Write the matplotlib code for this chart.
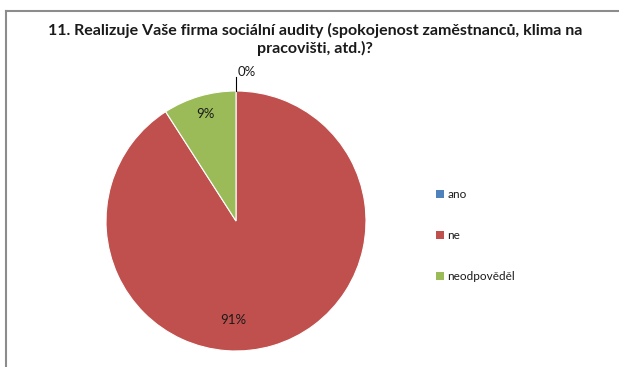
import matplotlib
matplotlib.use("Agg")
import matplotlib.pyplot as plt
import numpy as np
from matplotlib.lines import Line2D
from matplotlib.patches import Patch

title = "11. Realizuje Vaše firma sociální audity (spokojenost zaměstnanců, klima na\npracovišti, atd.)?"
categories = ["ano", "ne", "neodpověděl"]
values = [0.0, 90.9, 9.1]
labels = ["0%", "91%", "9%"]
colors = ["#4F81BD", "#C0504D", "#9BBB59"]

W, H = 619, 367
fig = plt.figure(figsize=(W / 100, H / 100), dpi=100)
plt.rcParams['font.family'] = ['Lato', 'DejaVu Sans']

# frame
fig.add_artist(Line2D([5.5 / W, 5.5 / W], [0, 1 - 10.5 / H], transform=fig.transFigure, color="#8c8c8c", lw=1.5))
fig.add_artist(Line2D([5.5 / W, 1], [1 - 10.5 / H, 1 - 10.5 / H], transform=fig.transFigure, color="#8c8c8c", lw=1.5))

fig.text(315 / W, 1 - 39.5 / H, title, ha="center", va="center", fontsize=11.5, fontweight="bold",
         linespacing=1.3, color="#1a1a1a")

# pie axes: center (236,221), radius 130 px
cx, cy, r = 236, 221, 130
ax = fig.add_axes([(cx - r) / W, (H - cy - r) / H, 2 * r / W, 2 * r / H])
wedges, _ = ax.pie(values, colors=colors, startangle=90, counterclock=False, radius=1,
                   wedgeprops=dict(edgecolor="white", linewidth=0.8))
ax.set_xlim(-1, 1)
ax.set_ylim(-1, 1)
ax.set_aspect("auto")
ax.axis("off")

# data labels
ax.text(-0.023, -0.76, labels[1], ha="center", va="center", fontsize=9.5, color="#1a1a1a")
ang = np.deg2rad(106)
ax.text(0.86 * np.cos(ang), 0.86 * np.sin(ang), labels[2], ha="center", va="center", fontsize=9.5, color="#1a1a1a")
ax.plot([0, 0], [1.0, 1.11], color="black", lw=0.8, clip_on=False)
ax.text(0.015, 1.15, labels[0], ha="left", va="center", fontsize=9.5, color="#1a1a1a", clip_on=False)

handles = [Patch(facecolor=c, edgecolor="none") for c in colors]
fig.legend(handles, categories, loc="center left", bbox_to_anchor=(425 / W, 1 - 235.5 / H),
           frameon=False, fontsize=8.5, handlelength=0.7, handleheight=0.7, handletextpad=0.3,
           labelspacing=2.55, labelcolor="#1a1a1a")

fig.savefig("out.png", dpi=100)
